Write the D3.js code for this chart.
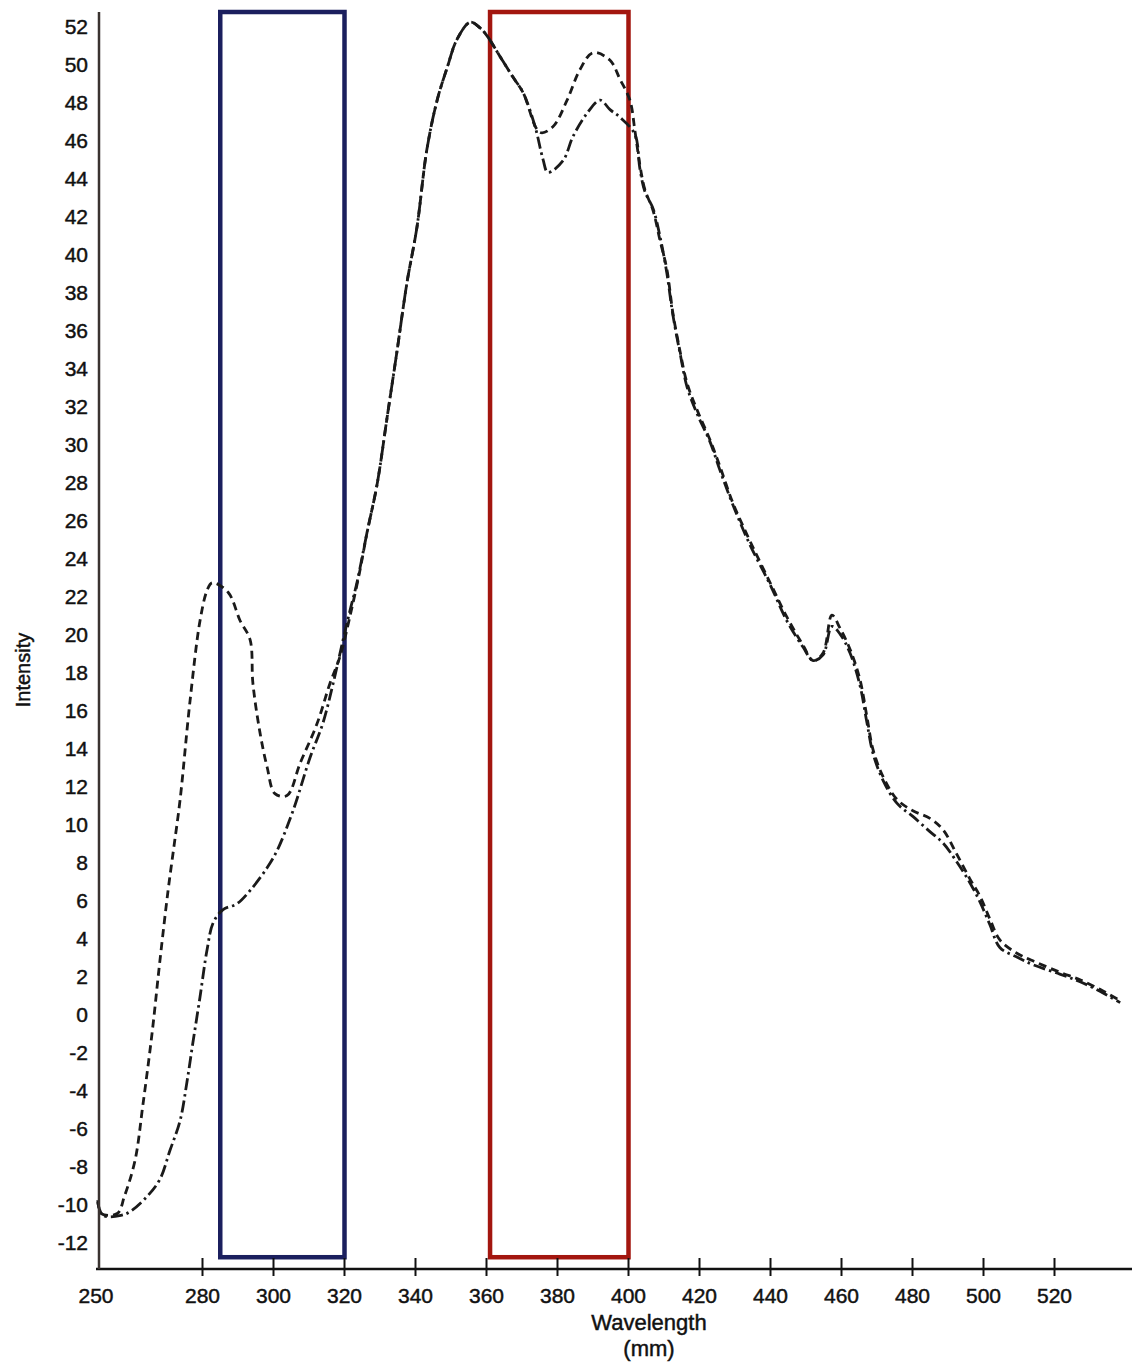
<!DOCTYPE html>
<html>
<head>
<meta charset="utf-8">
<script src="https://cdn.jsdelivr.net/npm/d3@7"></script>
<style>
  html, body { margin: 0; padding: 0; background: #fff; }
  svg { display: block; }
  text { font-family: "Liberation Sans", Arial, sans-serif; fill: #111; stroke: #111; stroke-width: 0.45px; }
</style>
</head>
<body>
<svg id="chart" width="1132" height="1372"></svg>
<script>
// Emission spectra: wavelength (nm) vs. intensity
const wavelengthA = [250.5, 251.5, 256, 258, 261, 263.2, 265.8, 268, 270.3, 271.8, 273.7, 276.5, 279.3, 281.3, 282.7,
  287.2, 290.6, 293.4, 294.2, 296.2, 298.2, 300.4, 303.8, 307.5, 312.3, 315.9, 318.7, 321.5, 324.4,
  326.3, 329.2, 332, 334.8, 337.6, 340.4, 343.2, 346.1, 348.9, 351.7, 355.4, 358.2, 360.1, 363.8, 367.5, 370.3,
  375.1, 378.7, 382.7, 386.3, 390, 394.8, 397.6, 400.4,
  401.8, 403.2, 404.6, 406.9, 408.9, 410.8, 412.5, 414.5, 416.5, 419.3, 423, 425.8, 429.4, 434.2, 439.9, 444.6,
  449.2, 452, 454.8, 457.3, 459.6, 462.4, 465.2, 467.2, 468.9, 471.7, 475.6, 480.1, 484.9, 488.6, 492.5, 496.2,
  499, 501.8, 504.6, 509.4, 513.9, 521.5, 527.2, 532.8, 538.5];
const intensityA = [-9.8, -10.5, -10.5, -9.6, -7.7, -4.8, -1.0, 2.8, 6.5, 8.6, 11.3, 16.5, 20.7, 22.3, 22.7,
  22.2, 20.7, 19.7, 17.4, 14.8, 13.0, 11.6, 11.5, 13.2, 15.3, 17.4, 18.8, 20.9, 23.4,
  25.3, 27.9, 31.4, 34.9, 38.5, 41.4, 45.5, 48.1, 49.8, 51.3, 52.2, 51.9, 51.5, 50.4, 49.3, 48.5,
  46.4, 46.7, 48.1, 49.7, 50.6, 50.2, 49.2, 48.1,
  46.5, 44.7, 43.4, 42.3, 40.7, 39.2, 36.9, 34.9, 33.2, 31.8, 30.2, 28.8, 26.9, 24.9, 22.7, 20.9,
  19.4, 18.6, 19.0, 21.0, 20.3, 19.2, 17.6, 15.6, 13.9, 12.5, 11.3, 10.7, 10.3, 9.7, 8.4, 7.1,
  6.2, 5.0, 3.9, 3.2, 2.8, 2.2, 1.8, 1.3, 0.7];

const wavelengthB = [250.5, 252, 257, 259.6, 264.4, 268, 270.8, 273.7, 275.6, 277.3, 279.3, 281.3, 283, 285.8,
  289.7, 293.4, 298.2, 301, 305.5, 310.3, 313.9, 316.8, 319.6, 321.5,
  323.5, 326.3, 329.2, 332, 334.8, 337.6, 340.4, 343.2, 346.1, 348.9, 351.7, 355.4, 358.2, 360.1, 363.8, 367.5, 370.3,
  373.7, 375.9, 377.3, 381.5, 384.4, 388.3, 392, 394.8, 397.6,
  401.8, 403.2, 404.6, 406.9, 408.9, 410.8, 412.5, 414.5, 416.5, 419.3, 423, 425.8, 429.4, 434.2, 439.9, 444.6,
  449.2, 452, 454.8, 457.3, 459.6, 462.4, 465.2, 467.2, 468.9, 471.7, 475.6, 480.1, 484.9, 488.6, 492.5, 496.2,
  499, 501.8, 504.6, 509.4, 513.9, 521.5, 527.2, 532.8, 538.5];
const intensityB = [-9.9, -10.6, -10.6, -10.4, -9.6, -8.7, -7.2, -5.6, -3.6, -1.5, 0.9, 3.4, 4.8, 5.5,
  5.8, 6.5, 7.7, 8.6, 10.7, 13.5, 15.3, 17.4, 19.7, 21.2,
  22.7, 25.3, 27.9, 31.4, 34.9, 38.5, 41.4, 45.5, 48.1, 49.8, 51.3, 52.2, 51.9, 51.5, 50.4, 49.3, 48.5,
  46.7, 45.0, 44.3, 44.9, 46.2, 47.4, 48.1, 47.6, 47.2,
  46.3, 44.5, 43.3, 42.4, 40.9, 39.0, 36.8, 34.8, 33.0, 31.6, 30.1, 28.6, 26.8, 24.7, 22.6, 20.7,
  19.3, 18.6, 18.9, 20.4, 20.0, 19.0, 17.3, 15.3, 13.7, 12.3, 11.1, 10.4, 9.6, 9.0, 8.0, 6.9,
  5.9, 4.7, 3.5, 3.0, 2.6, 2.1, 1.7, 1.2, 0.6];

const xTicks = [250, 280, 300, 320, 340, 360, 380, 400, 420, 440, 460, 480, 500, 520];
const yTicks = d3.range(-12, 53, 2);

// Highlighted wavelength windows (nm)
const bandStart = [285, 361];
const bandEnd = [320, 400];

const svg = d3.select("#chart");

const x = d3.scaleLinear().domain([250, 541.83]).range([96, 1132]);
const y = d3.scaleLinear().domain([-13.42, 52.74]).range([1269, 12]);

// Highlight frames
const bandColors = ["#1b1f5e", "#a3160f"];
const bandBottom = -12.8;
svg.append("g").selectAll("rect")
  .data(bandStart.map((s, i) => ({ s, e: bandEnd[i], c: bandColors[i] })))
  .join("rect")
  .attr("x", d => x(d.s))
  .attr("width", d => x(d.e) - x(d.s))
  .attr("y", y.range()[1])
  .attr("height", y(bandBottom) - y.range()[1])
  .attr("fill", "none")
  .attr("stroke", d => d.c)
  .attr("stroke-width", 4.5);

// Spectral curves
const line = d3.line()
  .x(d => x(d[0]))
  .y(d => y(d[1]))
  .curve(d3.curveCatmullRom.alpha(0.5));

const seriesA = wavelengthA.map((w, i) => [w, intensityA[i]]);
const seriesB = wavelengthB.map((w, i) => [w, intensityB[i]]);

svg.append("path")
  .datum(seriesB)
  .attr("d", line)
  .attr("fill", "none")
  .attr("stroke", "#1a1a1a")
  .attr("stroke-width", 2.8)
  .attr("stroke-dasharray", "12,4,2.5,4");

svg.append("path")
  .datum(seriesA)
  .attr("d", line)
  .attr("fill", "none")
  .attr("stroke", "#1a1a1a")
  .attr("stroke-width", 2.8)
  .attr("stroke-dasharray", "8,5");

// X axis
const xAxisG = svg.append("g").attr("transform", `translate(0,${y.range()[0]})`);
xAxisG.append("line")
  .attr("x1", x.range()[0]).attr("x2", x.range()[1])
  .attr("stroke", "#111").attr("stroke-width", 2.5);
xAxisG.selectAll("line.tick")
  .data(xTicks.filter(t => t !== 250))
  .join("line")
  .attr("class", "tick")
  .attr("x1", d => x(d)).attr("x2", d => x(d))
  .attr("y1", -11).attr("y2", 7)
  .attr("stroke", "#111").attr("stroke-width", 2);
xAxisG.selectAll("text")
  .data(xTicks)
  .join("text")
  .attr("x", d => x(d))
  .attr("y", 34)
  .attr("text-anchor", "middle")
  .attr("font-size", 21)
  .text(d => d);

svg.append("text")
  .attr("x", 649).attr("y", 1330)
  .attr("text-anchor", "middle")
  .attr("font-size", 22)
  .text("Wavelength");
svg.append("text")
  .attr("x", 649).attr("y", 1356)
  .attr("text-anchor", "middle")
  .attr("font-size", 22)
  .text("(mm)");

// Y axis
svg.append("line")
  .attr("x1", 99).attr("x2", 99)
  .attr("y1", y.range()[1]).attr("y2", y.range()[0])
  .attr("stroke", "#3a3330").attr("stroke-width", 2.5);
svg.append("g").selectAll("text")
  .data(yTicks)
  .join("text")
  .attr("x", 88)
  .attr("y", d => y(d))
  .attr("dy", "0.36em")
  .attr("text-anchor", "end")
  .attr("font-size", 21)
  .text(d => d);

svg.append("text")
  .attr("transform", "translate(30,670) rotate(-90)")
  .attr("text-anchor", "middle")
  .attr("font-size", 20)
  .text("Intensity");
</script>
</body>
</html>
